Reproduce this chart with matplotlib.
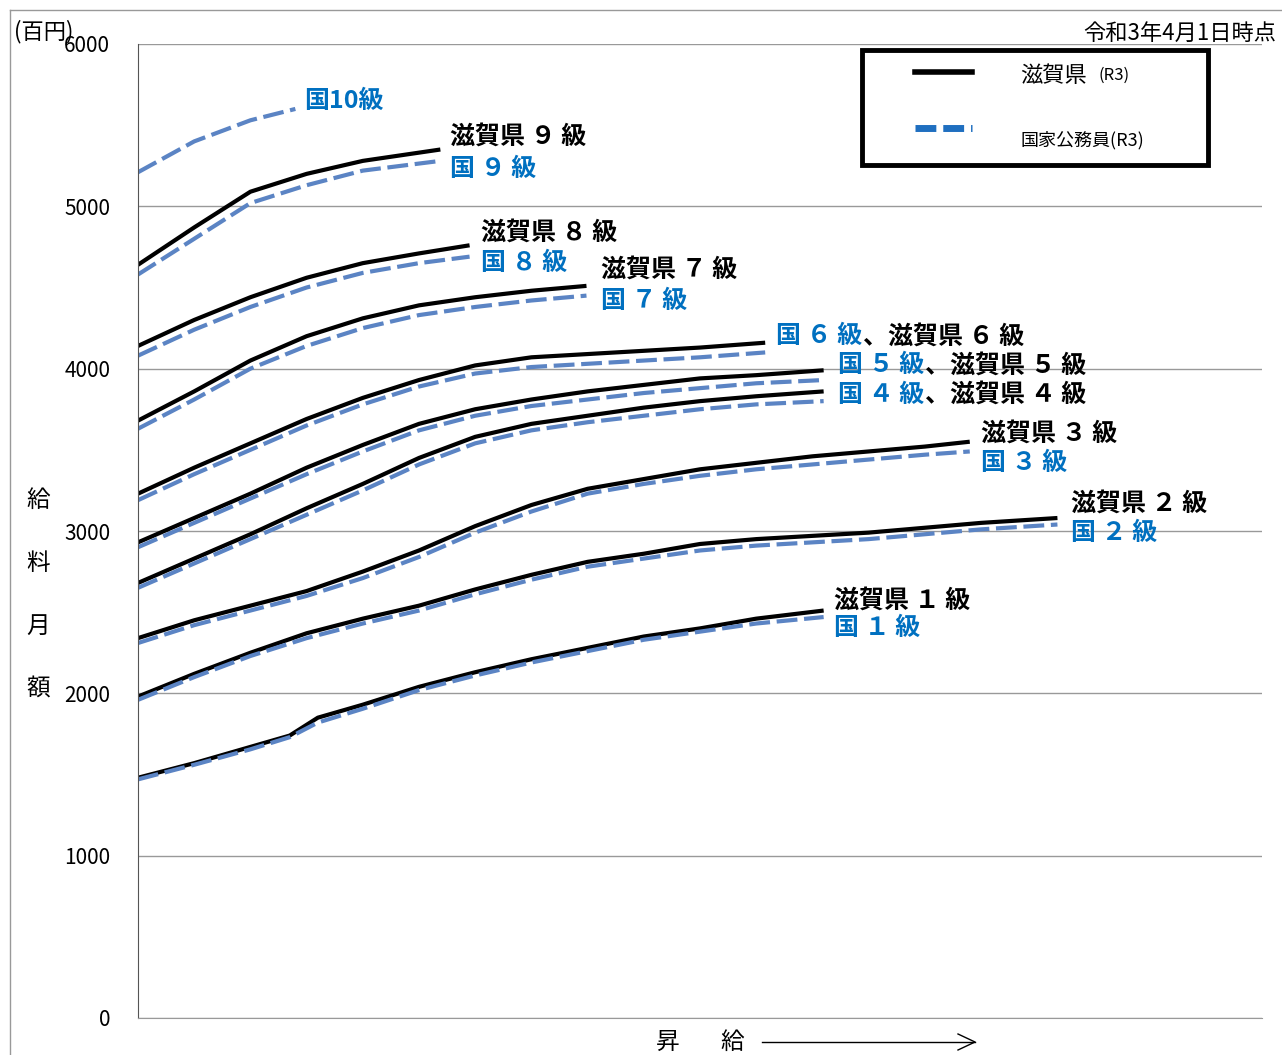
import matplotlib.pyplot as plt
from matplotlib.lines import Line2D
from matplotlib.patches import Rectangle
from matplotlib.transforms import offset_copy

plt.rcParams['font.family'] = ['Noto Sans CJK JP', 'DejaVu Sans']

# x: salary step (0-100 across the axis), y: monthly pay (hundred yen)
shiga = {
    1: ([0, 5, 10, 13.5, 16, 20, 25, 30, 35, 40, 45, 50, 55, 61],
        [1480, 1570, 1670, 1740, 1850, 1930, 2040, 2130, 2210, 2280, 2350, 2400, 2460, 2510]),
    2: ([0, 5, 10, 15, 20, 25, 30, 35, 40, 45, 50, 55, 60, 65, 70, 75, 81.8],
        [1980, 2120, 2250, 2370, 2460, 2540, 2640, 2730, 2810, 2860, 2920, 2950, 2970, 2990, 3020, 3050, 3080]),
    3: ([0, 5, 10, 15, 20, 25, 30, 35, 40, 45, 50, 55, 60, 65, 70, 74],
        [2340, 2450, 2540, 2630, 2750, 2880, 3030, 3160, 3260, 3320, 3380, 3420, 3460, 3490, 3520, 3550]),
    4: ([0, 5, 10, 15, 20, 25, 30, 35, 40, 45, 50, 55, 61],
        [2680, 2830, 2980, 3140, 3290, 3450, 3580, 3660, 3710, 3760, 3800, 3830, 3860]),
    5: ([0, 5, 10, 15, 20, 25, 30, 35, 40, 45, 50, 55, 61],
        [2930, 3080, 3230, 3390, 3530, 3660, 3750, 3810, 3860, 3900, 3940, 3960, 3990]),
    6: ([0, 5, 10, 15, 20, 25, 30, 35, 40, 45, 50, 55.8],
        [3230, 3390, 3540, 3690, 3820, 3930, 4020, 4070, 4090, 4110, 4130, 4160]),
    7: ([0, 5, 10, 15, 20, 25, 30, 35, 39.9],
        [3680, 3860, 4050, 4200, 4310, 4390, 4440, 4480, 4510]),
    8: ([0, 5, 10, 15, 20, 25, 29.5],
        [4140, 4300, 4440, 4560, 4650, 4710, 4760]),
    9: ([0, 5, 10, 15, 20, 26.9],
        [4640, 4870, 5090, 5200, 5280, 5350]),
}
kuni = {
    1: ([0, 5, 10, 13.5, 16, 20, 25, 30, 35, 40, 45, 50, 55, 61],
        [1470, 1560, 1655, 1730, 1820, 1905, 2020, 2110, 2190, 2260, 2330, 2380, 2430, 2470]),
    2: ([0, 5, 10, 15, 20, 25, 30, 35, 40, 45, 50, 55, 60, 65, 70, 75, 81.8],
        [1960, 2100, 2230, 2340, 2430, 2510, 2610, 2700, 2780, 2830, 2880, 2910, 2930, 2950, 2980, 3010, 3040]),
    3: ([0, 5, 10, 15, 20, 25, 30, 35, 40, 45, 50, 55, 60, 65, 70, 74],
        [2310, 2420, 2510, 2600, 2710, 2840, 2990, 3120, 3230, 3290, 3340, 3380, 3410, 3440, 3470, 3490]),
    4: ([0, 5, 10, 15, 20, 25, 30, 35, 40, 45, 50, 55, 61],
        [2650, 2800, 2950, 3100, 3250, 3410, 3540, 3620, 3670, 3710, 3750, 3780, 3800]),
    5: ([0, 5, 10, 15, 20, 25, 30, 35, 40, 45, 50, 55, 61],
        [2900, 3050, 3200, 3350, 3490, 3620, 3710, 3770, 3810, 3850, 3880, 3910, 3930]),
    6: ([0, 5, 10, 15, 20, 25, 30, 35, 40, 45, 50, 55.8],
        [3190, 3350, 3500, 3650, 3780, 3890, 3970, 4010, 4030, 4050, 4070, 4100]),
    7: ([0, 5, 10, 15, 20, 25, 30, 35, 39.9],
        [3630, 3810, 4000, 4140, 4250, 4330, 4380, 4420, 4450]),
    8: ([0, 5, 10, 15, 20, 25, 29.5],
        [4080, 4240, 4380, 4500, 4590, 4650, 4690]),
    9: ([0, 5, 10, 15, 20, 26.9],
        [4580, 4800, 5020, 5130, 5220, 5280]),
    10: ([0, 5, 10, 14],
         [5210, 5400, 5530, 5600]),
}

# (x, y, text, colour, trailing black text)
labels = [
    (14.8, 5650, '国10級', 'blue', ''),
    (27.8, 5430, '滋賀県 ９ 級', 'black', ''),
    (27.8, 5230, '国 ９ 級', 'blue', ''),
    (30.5, 4840, '滋賀県 ８ 級', 'black', ''),
    (30.5, 4650, '国 ８ 級', 'blue', ''),
    (41.2, 4610, '滋賀県 ７ 級', 'black', ''),
    (41.2, 4420, '国 ７ 級', 'blue', ''),
    (56.8, 4200, '国 ６ 級', 'blue', '、滋賀県 ６ 級'),
    (62.3, 4020, '国 ５ 級', 'blue', '、滋賀県 ５ 級'),
    (62.3, 3840, '国 ４ 級', 'blue', '、滋賀県 ４ 級'),
    (75.0, 3600, '滋賀県 ３ 級', 'black', ''),
    (75.0, 3420, '国 ３ 級', 'blue', ''),
    (83.0, 3170, '滋賀県 ２ 級', 'black', ''),
    (83.0, 2990, '国 ２ 級', 'blue', ''),
    (61.9, 2570, '滋賀県 １ 級', 'black', ''),
    (61.9, 2400, '国 １ 級', 'blue', ''),
]

fig = plt.figure(figsize=(12.82, 10.55), dpi=100)
ax = fig.add_axes([138/1282, 37/1055, 1124/1282, 974/1055])

for g, (x, y) in shiga.items():
    ax.plot(x, y, color='black', lw=3, solid_capstyle='butt')
for g, (x, y) in kuni.items():
    ax.plot(x, y, color='#5B84C4', lw=3, dashes=(5, 1.6))

blue = '#0070C0'
fig.canvas.draw()
renderer = fig.canvas.get_renderer()
for x, y, t, c, tail in labels:
    tx = ax.text(x, y, t, color=blue if c == 'blue' else 'black', fontsize=18,
                 fontweight='bold', va='center', ha='left')
    if tail:
        w = tx.get_window_extent(renderer).width
        ax.text(x, y, tail, color='black', fontsize=18, fontweight='bold',
                va='center', ha='left',
                transform=offset_copy(ax.transData, fig=fig, x=w * 72 / fig.dpi, units='points'))

ax.set_xlim(0, 100)
ax.set_ylim(0, 6000)
ax.set_yticks(range(0, 6001, 1000))
ax.set_xticks([])
ax.tick_params(axis='y', length=0, labelsize=15, pad=20)
ax.grid(axis='y', color='#999999', lw=1)
ax.set_axisbelow(True)
for s in ['top', 'right']:
    ax.spines[s].set_visible(False)
ax.spines['left'].set_color('#555555')
ax.spines['bottom'].set_color('#999999')

# figure frame
fig.add_artist(Line2D([10/1282, 10/1282], [0, 1 - 10/1055], color='#999999', lw=1))
fig.add_artist(Line2D([10/1282, 1], [1 - 10/1055, 1 - 10/1055], color='#999999', lw=1))

# legend box
fig.add_artist(Rectangle((862/1282, 1 - 165/1055), 346/1282, 115/1055,
                         fill=False, ec='black', lw=3.5))
fig.add_artist(Line2D([915/1282, 972/1282], [1 - 72/1055] * 2, color='black', lw=4))
fig.add_artist(Line2D([915/1282, 972/1282], [1 - 128/1055] * 2, color='#1F6FC0', lw=5,
                      dashes=(3, 1)))
fig.text(1020/1282, 1 - 75/1055, '滋賀県', fontsize=16, va='center')
fig.text(1098/1282, 1 - 75/1055, '(R3)', fontsize=12, va='center')
fig.text(1020/1282, 1 - 140/1055, '国家公務員(R3)', fontsize=13, va='center')

fig.text(1276/1282, 1 - 33/1055, '令和3年4月1日時点', fontsize=16, ha='right', va='center')
fig.text(14/1282, 1 - 32/1055, '(百円)', fontsize=16, va='center')
for i, ch in enumerate('給料月額'):
    fig.text(38/1282, 1 - (500 + i * 63)/1055, ch, fontsize=17, ha='center', va='center')
fig.text(668/1282, 1 - 1042/1055, '昇', fontsize=17, ha='center', va='center')
fig.text(732/1282, 1 - 1042/1055, '給', fontsize=17, ha='center', va='center')
fig.add_artist(Line2D([762/1282, 975/1282], [1 - 1042/1055] * 2, color='black', lw=1))
fig.add_artist(Line2D([958/1282, 975/1282, 958/1282],
                      [1 - 1034/1055, 1 - 1042/1055, 1 - 1050/1055], color='black', lw=1))

fig.savefig('out.png', dpi=100)
